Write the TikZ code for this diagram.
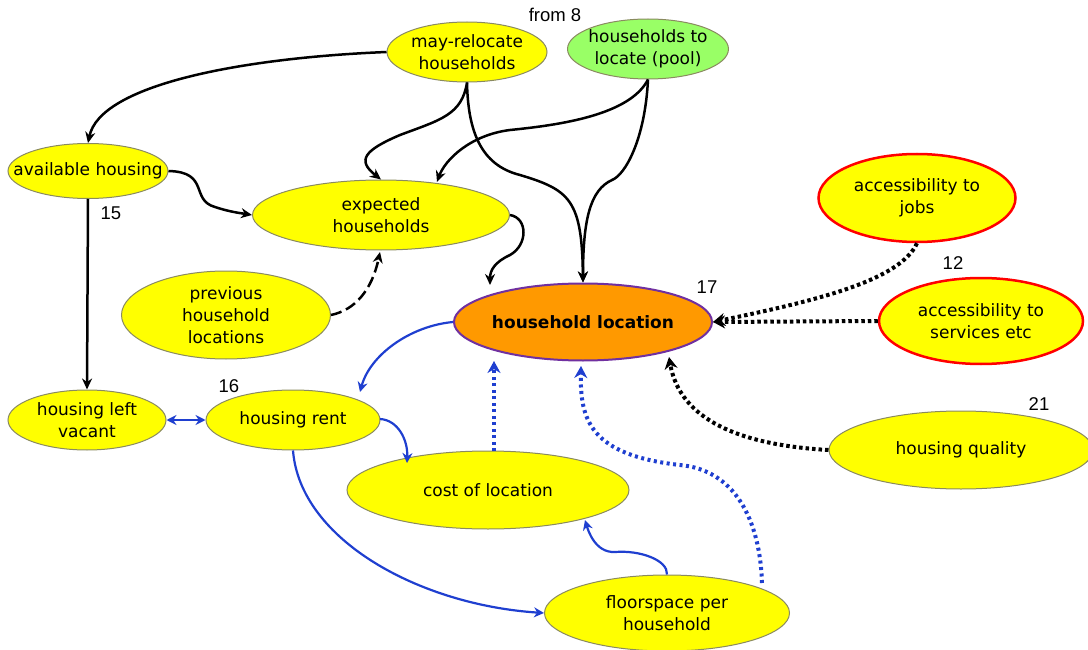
\documentclass[tikz,border=0pt]{standalone}
\usepackage{fontspec}
\setmainfont{DejaVu Sans}
\newfontfamily\numfont{Liberation Sans}
\usetikzlibrary{shapes.geometric,arrows.meta}
\definecolor{ylw}{HTML}{FFFF00}
\definecolor{grn}{HTML}{99FF66}
\definecolor{org}{HTML}{FF9900}
\definecolor{pur}{HTML}{7030A0}
\definecolor{bordergray}{HTML}{8A8A60}
\definecolor{blu}{HTML}{1F3FD0}
\tikzset{
  ell/.style={ellipse, draw=bordergray, line width=1pt, fill=ylw, inner sep=0pt},
  redell/.style={ell, draw=red, line width=2.5pt},
  txt/.style={align=center, inner sep=0pt, font=\fontsize{17}{22}\selectfont},
  blk/.style={line width=2.5pt, black, -{Stealth[length=11pt,width=10pt]}},
  blkdot/.style={line width=4pt, black, dash pattern=on 3.5pt off 3pt, -{Stealth[length=12pt,width=13pt]}},
  bl/.style={line width=2.2pt, blu, -{Stealth[length=10pt,width=10pt]}},
  bldot/.style={line width=4pt, blu, dash pattern=on 3pt off 3.5pt, -{Stealth[length=12pt,width=13pt]}},
  num/.style={font=\numfont\fontsize{18.5}{20}\selectfont, inner sep=0pt}
}
\begin{document}
\begin{tikzpicture}[x=1pt,y=-1pt]
\useasboundingbox (0,0) rectangle (1088,650);
% nodes
\node[ell, minimum width=160pt, minimum height=60pt] (may) at (467,52) {};
\node[txt] (may-t) at (may) {may-relocate\\households};
\node[ell, fill=grn, minimum width=161pt, minimum height=60pt] (pool) at (648,49) {};
\node[txt] (pool-t) at (pool) {households to\\locate (pool)};
\node[ell, minimum width=160pt, minimum height=55pt] (avail) at (88,171) {};
\node[txt] (avail-t) at (avail) {available housing};
\node[ell, minimum width=257pt, minimum height=70pt] (exp) at (381,215) {};
\node[txt] (exp-t) at (exp) {expected\\households};
\node[redell, minimum width=197pt, minimum height=88pt] (jobs) at (917,198) {};
\node[txt] (jobs-t) at (jobs) {accessibility to\\jobs};
\node[ell, fill=org, draw=pur, line width=2pt, minimum width=258pt, minimum height=77pt] (hl) at (583,322) {};
\node[txt, font=\bfseries\fontsize{17}{22}\selectfont] (hl-t) at (hl) {household location};
\node[redell, minimum width=204pt, minimum height=86pt] (serv) at (981,321) {};
\node[txt] (serv-t) at (serv) {accessibility to\\services etc};
\node[ell, minimum width=209pt, minimum height=88pt] (prev) at (226,315) {};
\node[txt] (prev-t) at (prev) {previous\\household\\locations};
\node[ell, minimum width=158pt, minimum height=60pt] (vac) at (87,420) {};
\node[txt] (vac-t) at (vac) {housing left\\vacant};
\node[ell, minimum width=174pt, minimum height=60pt] (rent) at (293,420) {};
\node[txt] (rent-t) at (rent) {housing rent};
\node[ell, minimum width=282pt, minimum height=78pt] (cost) at (488,490) {};
\node[txt] (cost-t) at (cost) {cost of location};
\node[ell, minimum width=264pt, minimum height=78pt] (qual) at (961,450) {};
\node[txt] (qual-t) at (qual) {housing quality};
\node[ell, minimum width=245pt, minimum height=76pt] (floor) at (667,613) {};
\node[txt] (floor-t) at (floor) {floorspace per\\household};
% numbers
\node[num] (n8) at (555,15) {from 8};
\node[num] (n15) at (111,213) {15};
\node[num] (n17) at (707,287) {17};
\node[num] (n12) at (953,263) {12};
\node[num] (n16) at (229,386) {16};
\node[num] (n21) at (1039,404) {21};
% black connectors
\draw[blk] (may.west) .. controls (240,58) and (100,85) .. (avail.north);
\draw[blk] (may.south) .. controls (462,115) and (440,120) .. (400,135) .. controls (365,150) and (356,160) .. (exp.north);
\draw[blk] (may.south) .. controls (468,130) and (480,165) .. (520,175) .. controls (570,190) and (582,200) .. (hl.north);
\draw[blk] (pool.south) .. controls (630,115) and (560,125) .. (510,130) .. controls (470,135) and (445,160) .. (437,182);
\draw[blk] (pool.south) .. controls (645,140) and (625,175) .. (612,180) .. controls (590,190) and (583,220) .. (hl.north);
\draw[blk] (avail.east) .. controls (210,172) and (190,200) .. (215,207) .. controls (230,212) and (240,213) .. (exp.west);
\draw[blk] (avail.south) -- (vac.north);
\draw[blk] (exp.east) .. controls (528,218) and (528,245) .. (510,255) .. controls (495,262) and (490,270) .. (490,285);
\draw[line width=2.5pt, black, dash pattern=on 11pt off 5pt, -{Stealth[length=11pt,width=10pt]}] (prev.east) .. controls (355,310) and (372,290) .. (380,252);
% blue connectors
\draw[bl] (hl.west) .. controls (410,326) and (370,355) .. (360,392);
\draw[line width=2.2pt, blu, {Stealth[length=10pt,width=10pt]}-{Stealth[length=10pt,width=10pt]}] (vac.east) -- (rent.west);
\draw[bl] (380,419) .. controls (398,420) and (408,440) .. (407,463);
\draw[bl] (rent.south) .. controls (300,540) and (420,605) .. (floor.west);
\draw[bldot] (494,451) -- (494,361);
\draw[bl] (floor.north) .. controls (668,560) and (640,550) .. (615,552) .. controls (595,553) and (588,530) .. (585,520);
\draw[bldot] (762,583) .. controls (760,520) and (735,470) .. (680,465) .. controls (590,455) and (580,420) .. (581,366);
% black dotted
\draw[blkdot] (jobs.south) .. controls (900,280) and (820,300) .. (hl.east);
\draw[blkdot] (serv.west) -- (hl.east);
\draw[blkdot] (qual.west) .. controls (740,445) and (680,420) .. (669,357);
\end{tikzpicture}
\end{document}
